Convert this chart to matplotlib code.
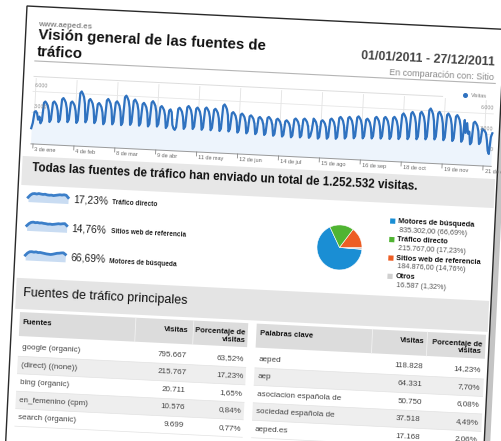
import numpy as np
import matplotlib
matplotlib.use("Agg")
import matplotlib.pyplot as plt
from matplotlib.transforms import Affine2D
from matplotlib.patches import Polygon, Rectangle

plt.rcParams['font.family'] = ['Liberation Sans', 'DejaVu Sans']

# ---------------- data ----------------
SITE = "www.aeped.es"
TITLE_1 = "Visión general de las fuentes de"
TITLE_2 = "tráfico"
DATE_RANGE = "01/01/2011 - 27/12/2011"
COMPARE = "En comparación con: Sitio"
SERIES_NAME = "Visitas"

# daily visits, 1 Jan 2011 (Sat) .. 27 Dec 2011
VISITS = [
    740, 1500,
    3100, 3200, 2900, 2000, 2450, 1500, 1900,
    4450, 4640, 4410, 4080, 3340, 1750, 2100,
    4520, 4710, 4470, 4140, 3390, 1800, 2160,
    5050, 5260, 5000, 4630, 3790, 1850, 2220,
    4640, 4830, 4590, 4250, 3480, 1800, 2160,
    6080, 6330, 6010, 5570, 4560, 1950, 2340,
    5100, 5310, 5040, 4670, 3820, 1900, 2280,
    4610, 4800, 4560, 4220, 3460, 1800, 2160,
    5220, 5440, 5170, 4790, 3920, 1850, 2220,
    4960, 5170, 4910, 4550, 3720, 1800, 2160,
    5800, 6040, 5740, 5320, 4350, 1900, 2280,
    5320, 5540, 5260, 4880, 3990, 1850, 2220,
    4930, 5140, 4880, 4520, 3700, 1800, 2160,
    5220, 5440, 5170, 4790, 3920, 1850, 2220,
    4610, 4800, 4560, 4220, 3460, 1700, 2040,
    4210, 4390, 4000, 2200, 1700, 1500, 1900,
    4500, 4690, 4460, 4130, 3380, 1700, 2040,
    4800, 5000, 4750, 4400, 3600, 1750, 2100,
    4650, 4840, 4600, 4260, 3480, 1700, 2040,
    4710, 4910, 4660, 4320, 3540, 1700, 2040,
    4600, 4790, 4550, 4220, 3450, 1650, 1980,
    5250, 5470, 5200, 4810, 3940, 1650, 1980,
    4260, 4440, 4220, 3910, 3200, 1550, 1860,
    4120, 4290, 4080, 3780, 3090, 1500, 1800,
    3940, 4100, 3900, 3610, 2950, 1450, 1740,
    3770, 3930, 3730, 3460, 2830, 1400, 1680,
    3840, 4000, 3800, 3520, 2880, 1350, 1620,
    3660, 3810, 3620, 3350, 2740, 1300, 1560,
    3490, 3640, 3460, 3200, 2620, 1250, 1500,
    3800, 3960, 3760, 3480, 2850, 1300, 1560,
    3850, 4010, 3810, 3530, 2890, 1300, 1560,
    2400, 4070, 3870, 3580, 2930, 1250, 1500,
    3740, 3900, 3710, 3430, 2810, 1300, 1560,
    4030, 4200, 3990, 3700, 3020, 1350, 1620,
    4320, 4500, 4280, 3960, 3240, 1450, 1740,
    4390, 4570, 4340, 4020, 3290, 1550, 1860,
    4520, 4710, 4470, 4140, 3390, 1600, 1920,
    4260, 4440, 4220, 3910, 3200, 1650, 1980,
    4570, 4760, 4520, 4190, 3430, 1700, 2040,
    4620, 4810, 4570, 4230, 3460, 1700, 2040,
    4690, 4890, 4650, 4300, 3520, 1750, 2100,
    5220, 5440, 5170, 4790, 3920, 1800, 2160,
    5480, 5710, 5420, 5020, 4110, 1850, 2220,
    5560, 5790, 5500, 5100, 4170, 1900, 2280,
    6080, 6330, 6010, 5570, 4560, 1950, 2340,
    5670, 5910, 5610, 5200, 4260, 1900, 2280,
    5510, 5740, 5450, 5050, 4130, 1850, 2220,
    5350, 5570, 5290, 4900, 4010, 1800, 2160,
    4930, 3100, 4500, 3000, 3300, 1500, 1800,
    4570, 4760, 4520, 4190, 3430, 1600, 1920,
    3800, 3640, 3500, 3200, 2200, 700, 250,
    2700, 3230,
]
TICK_DAYS = [2, 34, 66, 98, 130, 162, 194, 226, 258, 290, 322, 354]
TICK_LABELS = ["3 de ene", "4 de feb", "8 de mar", "9 de abr", "11 de may", "12 de jun",
               "14 de jul", "15 de ago", "16 de sep", "18 de oct", "19 de nov", "21 de dic"]
Y_TICKS = [0, 3000, 6000]
Y_LABELS = ["0", "3.000", "6.000"]

HEADING = "Todas las fuentes de tráfico han enviado un total de 1.252.532 visitas."

SPARK_PCT = ["17,23%", "14,76%", "66,69%"]
SPARK_NAMES = ["Tráfico directo", "Sitios web de referencia", "Motores de búsqueda"]
SPARK_DIRECT = [0.45, 0.70, 0.85, 0.88, 0.84, 0.90, 0.86, 0.83, 0.86, 0.80, 0.78, 0.80,
                0.76, 0.80, 0.84, 0.88, 0.86, 0.90, 0.86, 0.62]
SPARK_REFER = [0.50, 0.72, 0.86, 0.90, 0.85, 0.88, 0.84, 0.86, 0.82, 0.80, 0.76, 0.78,
               0.75, 0.78, 0.82, 0.86, 0.84, 0.88, 0.90, 0.70]
SPARK_SEARCH = [0.50, 0.74, 0.88, 0.90, 0.86, 0.90, 0.84, 0.86, 0.82, 0.78, 0.74, 0.72,
                0.70, 0.74, 0.80, 0.86, 0.88, 0.92, 0.94, 0.78]

PIE_LABELS = ["Motores de búsqueda", "Tráfico directo", "Sitios web de referencia", "Otros"]
PIE_VALUES = [835302, 215767, 184876, 16587]
PIE_TEXT = ["835.302,00 (66,69%)", "215.767,00 (17,23%)", "184.876,00 (14,76%)", "16.587 (1,32%)"]
PIE_COLORS = ["#1a8ed4", "#50b432", "#ed5d24", "#d0d0d0"]

SECTION_2 = "Fuentes de tráfico principales"
SRC_HEAD = ["Fuentes", "Visitas", "Porcentaje de\nvisitas"]
SOURCES = ["google (organic)", "(direct) ((none))", "bing (organic)", "en_femenino (cpm)", "search (organic)"]
SOURCE_VISITS = ["795.667", "215.767", "20.711", "10.576", "9.699"]
SOURCE_PCT = ["63,52%", "17,23%", "1,65%", "0,84%", "0,77%"]
KW_HEAD = ["Palabras clave", "Visitas", "Porcentaje de\nvisitas"]
KEYWORDS = ["aeped", "aep", "asociacion española de", "sociedad española de", "aeped.es"]
KW_VISITS = ["118.828", "64.331", "50.750", "37.518", "17.168"]
KW_PCT = ["14,23%", "7,70%", "6,08%", "4,49%", "2,06%"]

# ---------------- figure / tilted page ----------------
W, H = 501, 441
fig = plt.figure(figsize=(W / 100, H / 100), dpi=100)
ax = fig.add_axes([0, 0, 1, 1])
ax.set_xlim(0, W)
ax.set_ylim(H, 0)
ax.axis('off')

TILT = 2.8
PAGE = Affine2D().rotate_deg(TILT).translate(27, 6) + ax.transData


def txt(u, v, s, size, ha='left', va='center', color='#333333', weight='normal', z=5, **kw):
    return ax.text(u, v, s, transform=PAGE, fontsize=size, ha=ha, va=va, color=color,
                   fontweight=weight, rotation=0, rotation_mode='anchor',
                   transform_rotates_text=True, zorder=z, **kw)


def rect(u, v, w, h, color, z=1, **kw):
    r = Rectangle((u, v), w, h, transform=PAGE, facecolor=color, edgecolor='none', zorder=z, **kw)
    ax.add_patch(r)
    return r


def hline(u1, u2, v, color, lw=0.7, z=2):
    ax.plot([u1, u2], [v, v], transform=PAGE, color=color, lw=lw, zorder=z, solid_capstyle='butt')


# page shadow + page
ax.add_patch(Polygon([(6, 8), (484, 8), (484, 480), (6, 480)], closed=True, transform=PAGE,
                     facecolor='#c4c4c4', edgecolor='none', zorder=0))
ax.add_patch(Polygon([(0, 0), (478, 0), (478, 475), (0, 475)], closed=True, transform=PAGE,
                     facecolor='white', edgecolor='#2a2a2a', lw=1.0, zorder=0.5))

# header
txt(12, 18.4, SITE, 5.7, color='#8a8a8a', weight='bold')
txt(12.5, 28.6, TITLE_1, 10.8, color='#111111', weight='bold')
txt(12.5, 45.5, TITLE_2, 10.8, color='#111111', weight='bold')
txt(470, 34, DATE_RANGE, 8.9, ha='right', color='#444444', weight='bold')
txt(470, 48.5, COMPARE, 6.5, ha='right', color='#888888')
hline(10, 472, 54.5, '#b5b5b5', lw=0.8)
hline(10, 420, 70, '#dddddd', lw=0.7)

# ---------------- line chart ----------------
U0, DAY_PX = 10.2, 1.28
V0, VAL_PX = 127.0, 0.007
CHART = Affine2D().scale(DAY_PX, -VAL_PX).translate(U0, V0) + PAGE
days = np.arange(len(VISITS))
visits = np.array(VISITS, dtype=float)
base = -1500.0
v_base = V0 - base * VAL_PX

for d in TICK_DAYS:
    uu = U0 + d * DAY_PX
    ax.plot([uu, uu], [72, v_base], transform=PAGE, color='#e2e2e2', lw=0.6, zorder=1)
for yv in Y_TICKS[1:]:
    ax.plot([0, days[-1]], [yv, yv], transform=CHART, color='#e6e6e6', lw=0.6, zorder=1)

ax.fill_between(days, visits, base, transform=CHART, color='#edf4fc', lw=0, zorder=2)
ax.plot(days, visits, transform=CHART, color='#2f72c0', lw=1.6, zorder=3,
        solid_joinstyle='round')
hline(U0, 472, v_base, '#9a9a9a', lw=0.7, z=3)

clip = Rectangle((0, 0), 471.5, 470, transform=PAGE, facecolor='none', edgecolor='none')
for d, lab in zip(TICK_DAYS, TICK_LABELS):
    uu = U0 + d * DAY_PX
    ax.plot([uu, uu], [v_base, v_base + 4], transform=PAGE, color='#888888', lw=0.6, zorder=3)
    t = txt(uu + 1.8, v_base + 5.5, lab, 4.0, color='#666666')
    t.set_clip_path(clip)

for yv, lab in zip(Y_TICKS, Y_LABELS):
    vv = V0 - yv * VAL_PX - 6
    txt(472, vv, lab, 3.8, ha='right', color='#8a8a8a', z=6)
    if yv > 0:
        txt(12, vv, lab, 3.8, ha='left', color='#8a8a8a', z=6)

ax.plot([442], [67], transform=PAGE, marker='o', ms=2.6, color='#2f72c0', lw=0, zorder=5)
txt(448, 67.3, SERIES_NAME, 3.9, color='#777777')

# ---------------- heading band ----------------
rect(3, 150, 473, 29, '#e7e7e7', z=1)
txt(13, 162, HEADING, 8.4, color='#111111', weight='bold')

# sparklines
spark_rows = [190.8, 219.6, 249.2]
for vrow, pct, name, series in zip(spark_rows, SPARK_PCT, SPARK_NAMES,
                                   [SPARK_DIRECT, SPARK_REFER, SPARK_SEARCH]):
    n = len(series)
    ST = Affine2D().scale(40.0 / (n - 1), -9.5).translate(10.5, vrow + 4.5) + PAGE
    xs = np.arange(n)
    ax.fill_between(xs, series, 0, transform=ST, color='#c9dcf2', lw=0, zorder=2)
    ax.plot(xs, series, transform=ST, color='#3c7fc9', lw=2.0, zorder=3)
    txt(55.5, vrow, pct, 7.4, color='#222222')
    txt(94.5, vrow + 1.5, name, 4.7, color='#222222', weight='bold')

# pie chart in its own axes
R = 22.5
cx, cy = PAGE.transform((323.9, 225.9))
pax = fig.add_axes([(cx - R) / W, (cy - R) / H, 2 * R / W, 2 * R / H])
order = [0, 3, 2, 1]
pax.pie([PIE_VALUES[i] for i in order], colors=[PIE_COLORS[i] for i in order],
        startangle=115, counterclock=True, radius=1.0,
        wedgeprops=dict(edgecolor='white', linewidth=0.4))
pax.set_xlim(-1.0, 1.0)
pax.set_ylim(-1.0, 1.0)
pax.set_aspect('auto')
pax.axis('off')

leg_rows = [197.0, 215.5, 234.0, 252.3]
for vr, lab, val, col in zip(leg_rows, PIE_LABELS, PIE_TEXT, PIE_COLORS):
    rect(373.2, vr - 2.6, 5.2, 5.2, col, z=4)
    txt(381.2, vr, lab, 5.3, color='#111111', weight='bold')
    txt(382.3, vr + 8.6, val, 5.2, color='#555555')

# ---------------- Fuentes de tráfico principales ----------------
rect(3, 272, 473, 31, '#e4e4e4', z=1)
txt(10.5, 287, SECTION_2, 9.0, color='#111111')


def table(u_left, u_right, col_num_r, col_pct_r, head, names, nums, pcts, div1, div2):
    rect(u_left, 306, u_right - u_left, 24, '#dcdcdc', z=1)
    for dv in (div1, div2):
        ax.plot([dv, dv], [306, 330], transform=PAGE, color='#f2f2f2', lw=0.6, zorder=2)
    txt(u_left + 3.5, 316, head[0], 5.5, color='#111111', weight='bold')
    txt(col_num_r, 316, head[1], 5.5, ha='right', color='#111111', weight='bold')
    l1, l2 = head[2].split('\n')
    txt(col_pct_r, 316, l1, 5.5, ha='right', color='#111111', weight='bold')
    txt(col_pct_r, 323.5, l2, 5.5, ha='right', color='#111111', weight='bold')
    for i, (nm, nu, pc) in enumerate(zip(names, nums, pcts)):
        vc = 341.5 + 17.5 * i
        if i % 2 == 1:
            rect(u_left, vc - 8.75, u_right - u_left, 17.5, '#eeeeee', z=1)
        hline(u_left, u_right, vc + 8.75, '#e2e2e2', lw=0.5)
        txt(u_left + 3.5, vc, nm, 5.8, color='#444444')
        txt(col_num_r, vc, nu, 5.8, ha='right', color='#444444')
        txt(col_pct_r, vc, pc, 5.8, ha='right', color='#444444')


table(8, 236.5, 177, 234.5, SRC_HEAD, SOURCES, SOURCE_VISITS, SOURCE_PCT, 124, 182)
table(245, 474.5, 413.5, 471.5, KW_HEAD, KEYWORDS, KW_VISITS, KW_PCT, 361, 416)

ax.set_xlim(0, W)
ax.set_ylim(H, 0)
fig.savefig("out.png", dpi=100)
